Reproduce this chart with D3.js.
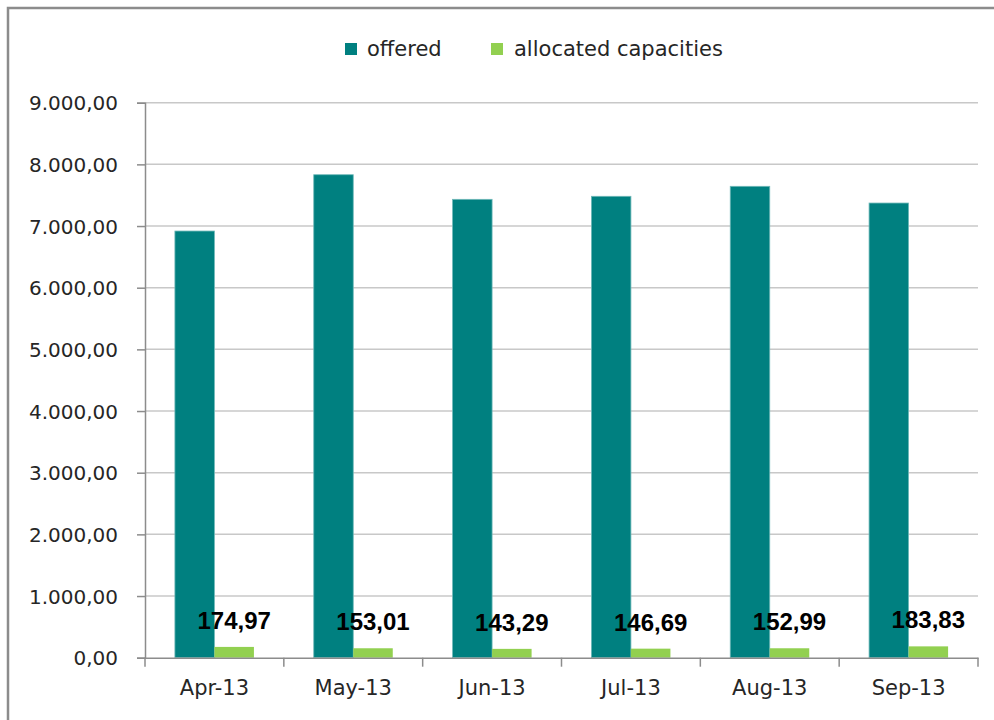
<!DOCTYPE html>
<html>
<head>
<meta charset="utf-8">
<script src="https://cdn.jsdelivr.net/npm/d3@7/dist/d3.min.js"></script>
<style>
  html, body { margin: 0; padding: 0; background: #fff; }
  svg { display: block; }
</style>
</head>
<body>
<svg id="chart" width="994" height="720"></svg>
<script>
// Monthly capacities
const months = ["Apr-13", "May-13", "Jun-13", "Jul-13", "Aug-13", "Sep-13"];
const offered = [6919, 7832, 7433, 7482, 7644, 7373];
const allocated = [174.97, 153.01, 143.29, 146.69, 152.99, 183.83];
const seriesNames = ["offered", "allocated capacities"];
const yTicks = [0, 1000, 2000, 3000, 4000, 5000, 6000, 7000, 8000, 9000];

const colors = { offered: "#008080", allocated: "#92D050" };

const svg = d3.select("#chart");

// Outer chart frame
svg.append("rect")
  .attr("x", 8).attr("y", 8)
  .attr("width", 1000).attr("height", 730)
  .attr("fill", "#fff")
  .attr("stroke", "#8c8c8c")
  .attr("stroke-width", 2.5);

const plot = { left: 145, right: 978, top: 102.7, bottom: 657.7 };

const x = d3.scaleBand().domain(months).range([plot.left, plot.right]).paddingInner(0).paddingOuter(0);
const y = d3.scaleLinear().domain([0, 9000]).range([plot.bottom, plot.top]);

const fmt = v => {
  const s = d3.format(",.2f")(v);
  return s.replace(/,/g, "#").replace(".", ",").replace(/#/g, ".");
};

// Horizontal gridlines
svg.append("g")
  .selectAll("line")
  .data(yTicks.filter(t => t > 0))
  .join("line")
  .attr("x1", plot.left).attr("x2", plot.right)
  .attr("y1", d => y(d)).attr("y2", d => y(d))
  .attr("stroke", "#c8c8c8")
  .attr("stroke-width", 1.5);

// Y axis
const yAxis = svg.append("g")
  .attr("transform", `translate(${plot.left},0)`)
  .call(d3.axisLeft(y).tickValues(yTicks).tickFormat(fmt).tickSize(8).tickPadding(19));
yAxis.select(".domain").attr("stroke", "#8c8c8c").attr("stroke-width", 1.5);
yAxis.selectAll(".tick line").attr("stroke", "#8c8c8c").attr("stroke-width", 1.5);
yAxis.selectAll(".tick text")
  .attr("font-family", "DejaVu Sans")
  .attr("font-size", 20)
  .attr("fill", "#262626")
  .attr("dy", "0.36em");

// Bars
const inner = d3.scaleBand().domain(["offered", "allocated"])
  .range([0, x.bandwidth()]).paddingInner(0).paddingOuter(0.757);

const groups = svg.append("g").selectAll("g")
  .data(months.map((m, i) => ({ m, offered: offered[i], allocated: allocated[i] })))
  .join("g")
  .attr("transform", d => `translate(${x(d.m)},0)`);

groups.append("rect")
  .attr("x", inner("offered"))
  .attr("width", inner.bandwidth())
  .attr("y", d => y(d.offered))
  .attr("height", d => y(0) - y(d.offered))
  .attr("fill", colors.offered)
  .attr("stroke", "#6fb8b8")
  .attr("stroke-width", 0.8);

groups.append("rect")
  .attr("x", inner("allocated"))
  .attr("width", inner.bandwidth())
  .attr("y", d => y(d.allocated))
  .attr("height", d => y(0) - y(d.allocated))
  .attr("fill", colors.allocated);

// Value labels for allocated capacities
groups.append("text")
  .attr("x", inner("allocated") + inner.bandwidth() / 2)
  .attr("y", d => y(d.allocated) - 18)
  .attr("text-anchor", "middle")
  .attr("font-family", "Liberation Sans")
  .attr("font-weight", "bold")
  .attr("font-size", 24)
  .attr("fill", "#000")
  .text(d => d.allocated.toFixed(2).replace(".", ","));

// X axis
const xAxis = svg.append("g")
  .attr("transform", `translate(0,${plot.bottom})`)
  .call(d3.axisBottom(x).tickSize(0).tickPadding(30));
xAxis.select(".domain").attr("stroke", "#8c8c8c").attr("stroke-width", 1.5);
xAxis.selectAll(".tick text")
  .attr("font-family", "DejaVu Sans")
  .attr("font-size", 21)
  .attr("fill", "#262626")
  .attr("dy", "0.36em");

// Category separator ticks
svg.append("g").selectAll("line")
  .data(months.map(m => x(m)).concat([plot.right]))
  .join("line")
  .attr("x1", d => d).attr("x2", d => d)
  .attr("y1", plot.bottom).attr("y2", plot.bottom + 9)
  .attr("stroke", "#8c8c8c")
  .attr("stroke-width", 1.5);

// Legend
const legend = svg.append("g");
const legendItems = [
  { name: seriesNames[0], color: colors.offered, x: 345, tx: 367 },
  { name: seriesNames[1], color: colors.allocated, x: 491, tx: 514 }
];
legend.selectAll("rect")
  .data(legendItems)
  .join("rect")
  .attr("x", d => d.x).attr("y", 43)
  .attr("width", 12).attr("height", 12)
  .attr("fill", d => d.color);
legend.selectAll("text")
  .data(legendItems)
  .join("text")
  .attr("x", d => d.tx).attr("y", 56)
  .attr("font-family", "DejaVu Sans")
  .attr("font-size", 21)
  .attr("fill", "#262626")
  .text(d => d.name);
</script>
</body>
</html>
